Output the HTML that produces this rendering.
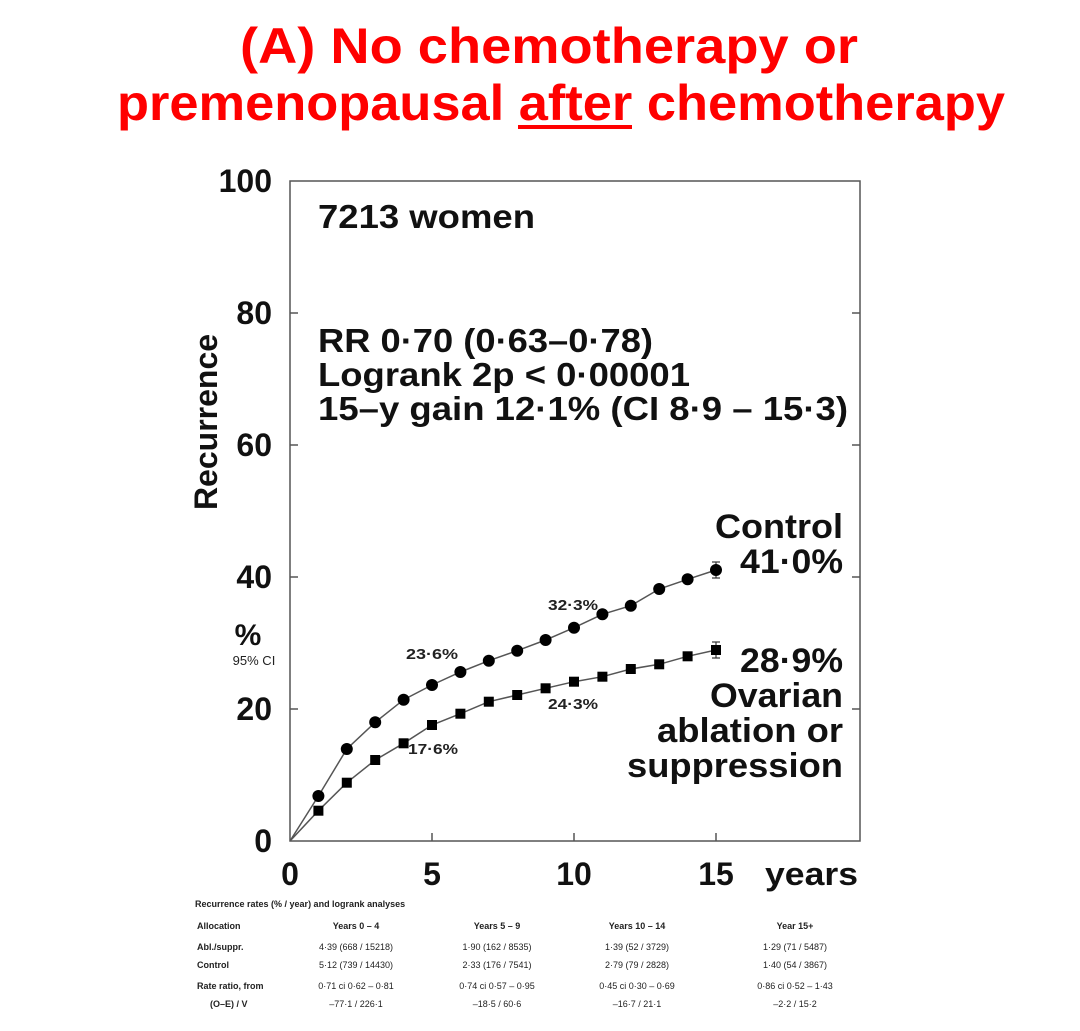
<!DOCTYPE html>
<html><head><meta charset="utf-8"><style>
body{margin:0;background:#fff;}
svg{display:block;}
</style></head><body>
<svg width="1080" height="1031" xmlns="http://www.w3.org/2000/svg" font-family="Liberation Sans, Arial, sans-serif">
<g fill="#ff0000" font-weight="bold" font-size="50">
<text x="240" y="63" textLength="618" lengthAdjust="spacingAndGlyphs">(A) No chemotherapy or</text>
<text x="117" y="120" textLength="888" lengthAdjust="spacingAndGlyphs">premenopausal after chemotherapy</text>
</g>
<line x1="518" y1="127" x2="632" y2="127" stroke="#ff0000" stroke-width="4"/>
<rect x="290" y="181" width="570" height="660" fill="none" stroke="#555" stroke-width="1.5"/>
<g stroke="#555" stroke-width="1.5">
<line x1="290" y1="313" x2="298" y2="313"/><line x1="290" y1="445" x2="298" y2="445"/><line x1="290" y1="577" x2="298" y2="577"/><line x1="290" y1="709" x2="298" y2="709"/>
<line x1="852" y1="313" x2="860" y2="313"/><line x1="852" y1="445" x2="860" y2="445"/><line x1="852" y1="577" x2="860" y2="577"/><line x1="852" y1="709" x2="860" y2="709"/>
<line x1="432" y1="841" x2="432" y2="833"/><line x1="574" y1="841" x2="574" y2="833"/><line x1="716" y1="841" x2="716" y2="833"/>
</g>
<g font-size="32" font-weight="bold" text-anchor="end" fill="#111">
<text x="272" y="192">100</text><text x="272" y="324">80</text><text x="272" y="456">60</text><text x="272" y="588">40</text><text x="272" y="720">20</text><text x="272" y="852">0</text>
</g>
<g font-size="32" font-weight="bold" text-anchor="middle" fill="#111">
<text x="290" y="885">0</text><text x="432" y="885">5</text><text x="574" y="885">10</text><text x="716" y="885">15</text>
<text x="765" y="885" text-anchor="start" textLength="93" lengthAdjust="spacingAndGlyphs">years</text>
</g>
<text transform="translate(217,422) rotate(-90)" font-size="32" font-weight="bold" text-anchor="middle" fill="#111">Recurrence</text>
<text x="248" y="645" font-size="30" font-weight="bold" text-anchor="middle" fill="#111">%</text>
<text x="254" y="665" font-size="13" text-anchor="middle" fill="#222">95% CI</text>
<g font-size="33" font-weight="bold" fill="#111">
<text x="318" y="228" textLength="217" lengthAdjust="spacingAndGlyphs">7213 women</text>
<text x="318" y="352" textLength="335" lengthAdjust="spacingAndGlyphs">RR 0·70 (0·63–0·78)</text>
<text x="318" y="386" textLength="372" lengthAdjust="spacingAndGlyphs">Logrank 2p &lt; 0·00001</text>
<text x="318" y="420" textLength="530" lengthAdjust="spacingAndGlyphs">15–y gain 12·1% (CI 8·9 – 15·3)</text>
</g>
<g font-size="34" font-weight="bold" fill="#111">
<text x="715" y="538" textLength="128" lengthAdjust="spacingAndGlyphs">Control</text>
<text x="740" y="573" textLength="103" lengthAdjust="spacingAndGlyphs">41·0%</text>
<text x="740" y="672" textLength="103" lengthAdjust="spacingAndGlyphs">28·9%</text>
<text x="710" y="707" textLength="133" lengthAdjust="spacingAndGlyphs">Ovarian</text>
<text x="657" y="742" textLength="186" lengthAdjust="spacingAndGlyphs">ablation or</text>
<text x="627" y="777" textLength="216" lengthAdjust="spacingAndGlyphs">suppression</text>
</g>
<g font-size="15" font-weight="bold" fill="#222">
<text x="406" y="659" textLength="52" lengthAdjust="spacingAndGlyphs">23·6%</text>
<text x="548" y="610" textLength="50" lengthAdjust="spacingAndGlyphs">32·3%</text>
<text x="408" y="754" textLength="50" lengthAdjust="spacingAndGlyphs">17·6%</text>
<text x="548" y="709" textLength="50" lengthAdjust="spacingAndGlyphs">24·3%</text>
</g>
<polyline fill="none" stroke="#555" stroke-width="1.5" points="290,841 318.4,796 346.8,749 375.2,722.3 403.6,699.7 432,685 460.4,672 488.8,660.7 517.2,650.7 545.6,640 574,627.7 602.4,614.3 630.8,605.7 659.2,589 687.6,579.3 716,570"/>
<polyline fill="none" stroke="#555" stroke-width="1.5" points="290,841 318.4,810.7 346.8,782.7 375.2,760 403.6,743.3 432,725 460.4,713.7 488.8,701.7 517.2,695 545.6,688.3 574,681.7 602.4,676.7 630.8,669 659.2,664.3 687.6,656.3 716,650"/>
<g stroke="#333" stroke-width="1.2"><line x1="716" y1="562" x2="716" y2="578"/><line x1="712" y1="562" x2="720" y2="562"/><line x1="712" y1="578" x2="720" y2="578"/>
<line x1="716" y1="642" x2="716" y2="658"/><line x1="712" y1="642" x2="720" y2="642"/><line x1="712" y1="658" x2="720" y2="658"/></g>
<g fill="#000">
<circle cx="318.4" cy="796" r="6"/><circle cx="346.8" cy="749" r="6"/><circle cx="375.2" cy="722.3" r="6"/><circle cx="403.6" cy="699.7" r="6"/><circle cx="432" cy="685" r="6"/><circle cx="460.4" cy="672" r="6"/><circle cx="488.8" cy="660.7" r="6"/><circle cx="517.2" cy="650.7" r="6"/><circle cx="545.6" cy="640" r="6"/><circle cx="574" cy="627.7" r="6"/><circle cx="602.4" cy="614.3" r="6"/><circle cx="630.8" cy="605.7" r="6"/><circle cx="659.2" cy="589" r="6"/><circle cx="687.6" cy="579.3" r="6"/><circle cx="716" cy="570" r="6"/>
<rect x="313.4" y="805.7" width="10" height="10"/><rect x="341.8" y="777.7" width="10" height="10"/><rect x="370.2" y="755" width="10" height="10"/><rect x="398.6" y="738.3" width="10" height="10"/><rect x="427" y="720" width="10" height="10"/><rect x="455.4" y="708.7" width="10" height="10"/><rect x="483.8" y="696.7" width="10" height="10"/><rect x="512.2" y="690" width="10" height="10"/><rect x="540.6" y="683.3" width="10" height="10"/><rect x="569" y="676.7" width="10" height="10"/><rect x="597.4" y="671.7" width="10" height="10"/><rect x="625.8" y="664" width="10" height="10"/><rect x="654.2" y="659.3" width="10" height="10"/><rect x="682.6" y="651.3" width="10" height="10"/><rect x="711" y="645" width="10" height="10"/>
</g>
<g font-size="9" font-weight="bold" fill="#222">
<text x="195" y="907">Recurrence rates (% / year) and logrank analyses</text>
<text x="197" y="929">Allocation</text>
<text x="197" y="950">Abl./suppr.</text>
<text x="197" y="968">Control</text>
<text x="197" y="989">Rate ratio, from</text>
<text x="210" y="1007">(O–E) / V</text>
</g>
<g font-size="9" fill="#222" text-anchor="middle">
<g font-weight="bold"><text x="356" y="929">Years 0 – 4</text><text x="497" y="929">Years 5 – 9</text><text x="637" y="929">Years 10 – 14</text><text x="795" y="929">Year 15+</text></g>
<text x="356" y="950">4·39 (668 / 15218)</text><text x="497" y="950">1·90 (162 / 8535)</text><text x="637" y="950">1·39 (52 / 3729)</text><text x="795" y="950">1·29 (71 / 5487)</text>
<text x="356" y="968">5·12 (739 / 14430)</text><text x="497" y="968">2·33 (176 / 7541)</text><text x="637" y="968">2·79 (79 / 2828)</text><text x="795" y="968">1·40 (54 / 3867)</text>
<text x="356" y="989">0·71 ci 0·62 – 0·81</text><text x="497" y="989">0·74 ci 0·57 – 0·95</text><text x="637" y="989">0·45 ci 0·30 – 0·69</text><text x="795" y="989">0·86 ci 0·52 – 1·43</text>
<text x="356" y="1007">–77·1 / 226·1</text><text x="497" y="1007">–18·5 / 60·6</text><text x="637" y="1007">–16·7 / 21·1</text><text x="795" y="1007">–2·2 / 15·2</text>
</g>
</svg>
</body></html>
